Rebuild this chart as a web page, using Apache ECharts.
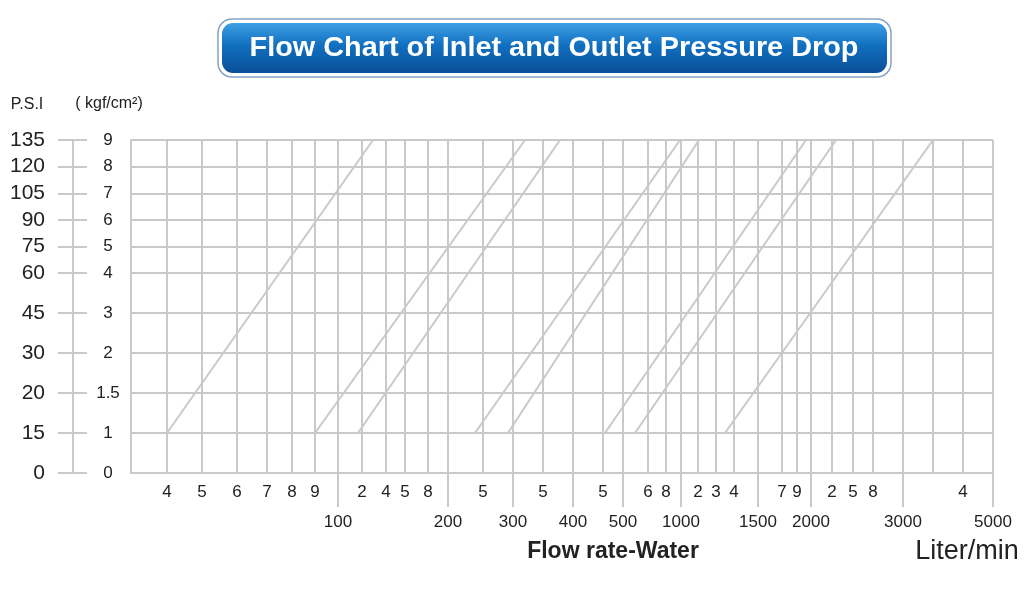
<!DOCTYPE html>
<html>
<head>
<meta charset="utf-8">
<script src="https://cdn.jsdelivr.net/npm/echarts@6/dist/echarts.min.js"></script>
<style>
html, body { margin: 0; padding: 0; background: #fff; }
#container { width: 1024px; height: 614px; }
</style>
</head>
<body>
<div id="container"></div>
<script>
// pressure scale: position on the chart (bottom = 0) and both labels
var kgfPos = [0, 1.5, 3, 4.5, 6, 7.5, 8.5, 9.5, 10.5, 11.5, 12.5];
var kgfLabels = ['0', '1', '1.5', '2', '3', '4', '5', '6', '7', '8', '9'];
var psiLabels = ['0', '15', '20', '30', '45', '60', '75', '90', '105', '120', '135'];

// flow scale: positions of the vertical rulings
var gridX = [0, 3.6, 7.1, 10.6, 13.6, 16.1, 18.4, 20.7, 23.1, 25.5, 27.4, 29.7, 31.7,
  35.2, 38.2, 41.2, 44.2, 47.2, 49.2, 51.7, 53.5, 55.0, 56.7, 58.5, 60.3, 62.7,
  65.1, 66.6, 68.0, 70.1, 72.2, 74.2, 77.2, 80.2, 83.2, 86.2];
var minorPos = [3.6, 7.1, 10.6, 13.6, 16.1, 18.4, 23.1, 25.5, 27.4, 29.7, 35.2, 41.2,
  47.2, 51.7, 53.5, 56.7, 58.5, 60.3, 65.1, 66.6, 70.1, 72.2, 74.2, 83.2];
var minorText = ['4', '5', '6', '7', '8', '9', '2', '4', '5', '8', '5', '5',
  '5', '6', '8', '2', '3', '4', '7', '9', '2', '5', '8', '4'];
var majorPos = [20.7, 31.7, 38.2, 44.2, 49.2, 55.0, 62.7, 68.0, 77.2, 86.2];
var majorText = ['100', '200', '300', '400', '500', '1000', '1500', '2000', '3000', '5000'];

// pipe sizes: flow position at 1 kgf/cm2 and at 9 kgf/cm2
var sizes = ['1/2"', '3/4"', '1"', '1.1/2"', '2"', '2.1/2"', '3"', '4"'];
var lineStart = [3.6, 18.4, 22.7, 34.4, 37.7, 47.4, 50.4, 59.4];
var lineEnd = [24.2, 39.4, 42.9, 54.9, 56.8, 67.5, 70.5, 80.2];

var labelShift = [5, 3, 29, 0, 29, 3, 30, 2];

var gray = '#c9c9c9';
var ink = '#222';
var font = "'Liberation Sans', Arial, sans-serif";

function pick(list, names, v) {
  for (var i = 0; i < list.length; i++) {
    if (Math.abs(list[i] - v) < 1e-6) return names[i];
  }
  return '';
}

var dom = document.getElementById('container');
var myChart = echarts.init(dom);

var series = sizes.map(function (name, i) {
  return {
    type: 'line',
    name: name,
    symbol: 'none',
    silent: true,
    lineStyle: { color: gray, width: 2 },
    data: [
      [lineStart[i], kgfPos[1]],
      {
        value: [lineEnd[i], kgfPos[kgfPos.length - 1]],
        label: {
          show: true,
          position: 'top',
          distance: 7,
          offset: [labelShift[i], 0],
          formatter: name,
          fontSize: 17,
          fontFamily: font,
          color: ink
        }
      }
    ]
  };
});

var option = {
  backgroundColor: '#fff',
  animation: false,
  textStyle: { fontFamily: font },
  grid: { left: 131, top: 140, right: 31, bottom: 141, outerBoundsMode: 'none' },
  xAxis: [{
    type: 'value', min: 0, max: 86.2, position: 'bottom',
    axisLine: { show: false, onZero: false },
    axisTick: { show: false, customValues: gridX },
    splitLine: { show: true, lineStyle: { color: gray, width: 2 } },
    axisLabel: {
      customValues: minorPos, margin: 11, fontSize: 17, color: ink,
      formatter: function (v) { return pick(minorPos, minorText, v); }
    }
  }, {
    type: 'value', min: 0, max: 86.2, position: 'bottom', offset: 34,
    axisLine: { show: false, onZero: false },
    axisTick: { show: true, inside: true, length: 34, customValues: majorPos, lineStyle: { color: gray, width: 2 } },
    splitLine: { show: false },
    axisLabel: {
      customValues: majorPos, margin: 7, fontSize: 17, color: ink,
      formatter: function (v) { return pick(majorPos, majorText, v); }
    }
  }],
  yAxis: [{
    type: 'value', min: 0, max: 12.5, position: 'left',
    axisLine: { show: true, onZero: false, lineStyle: { color: gray, width: 2 } },
    axisTick: { show: false, customValues: kgfPos },
    splitLine: { show: true, lineStyle: { color: gray, width: 2 } },
    axisLabel: {
      customValues: kgfPos, margin: 23, align: 'center', fontSize: 17, color: ink,
      formatter: function (v) { return pick(kgfPos, kgfLabels, v); }
    }
  }, {
    type: 'value', min: 0, max: 12.5, position: 'left', offset: 58,
    axisLine: { show: true, onZero: false, lineStyle: { color: gray, width: 2 } },
    axisTick: { show: true, length: 15, customValues: kgfPos, lineStyle: { color: gray, width: 2 } },
    splitLine: { show: false },
    axisLabel: {
      customValues: kgfPos, margin: 28, fontSize: 21, color: ink,
      formatter: function (v) { return pick(kgfPos, psiLabels, v); }
    }
  }, {
    type: 'value', min: 0, max: 12.5, position: 'left', offset: 58,
    axisLine: { show: false, onZero: false },
    axisTick: { show: true, inside: true, length: 14, customValues: kgfPos, lineStyle: { color: gray, width: 2 } },
    splitLine: { show: false },
    axisLabel: { show: false }
  }],
  graphic: [
    {
      type: 'rect', silent: true,
      shape: { x: 218, y: 19, width: 673, height: 58, r: 14 },
      style: { fill: '#fff', stroke: '#86a3c2', lineWidth: 1.5 }
    },
    {
      type: 'rect', silent: true,
      shape: { x: 222, y: 23, width: 665, height: 50, r: 11 },
      style: {
        fill: new echarts.graphic.LinearGradient(0, 0, 0, 1, [
          { offset: 0, color: '#3d9fe4' },
          { offset: 0.45, color: '#116fc0' },
          { offset: 1, color: '#0a4f98' }
        ])
      }
    },
    {
      type: 'text', silent: true, x: 554, y: 48, scaleX: 1.03,
      style: {
        text: 'Flow Chart of Inlet and Outlet Pressure Drop',
        fill: '#fff', fontSize: 28, fontWeight: 'bold', fontFamily: font,
        align: 'center', verticalAlign: 'middle'
      }
    },
    {
      type: 'text', silent: true, x: 27, y: 105,
      style: { text: 'P.S.I', fill: ink, fontSize: 16, fontFamily: font, align: 'center', verticalAlign: 'middle' }
    },
    {
      type: 'text', silent: true, x: 109, y: 104,
      style: { text: '( kgf/cm²)', fill: ink, fontSize: 16, fontFamily: font, align: 'center', verticalAlign: 'middle' }
    },
    {
      type: 'text', silent: true, x: 613, y: 552,
      style: { text: 'Flow rate-Water', fill: ink, fontSize: 23, fontWeight: 'bold', fontFamily: font, align: 'center', verticalAlign: 'middle' }
    },
    {
      type: 'text', silent: true, x: 967, y: 552,
      style: { text: 'Liter/min', fill: ink, fontSize: 27, fontFamily: font, align: 'center', verticalAlign: 'middle' }
    }
  ],
  series: series
};

myChart.setOption(option);
window.onresize = myChart.resize;
</script>
</body>
</html>
